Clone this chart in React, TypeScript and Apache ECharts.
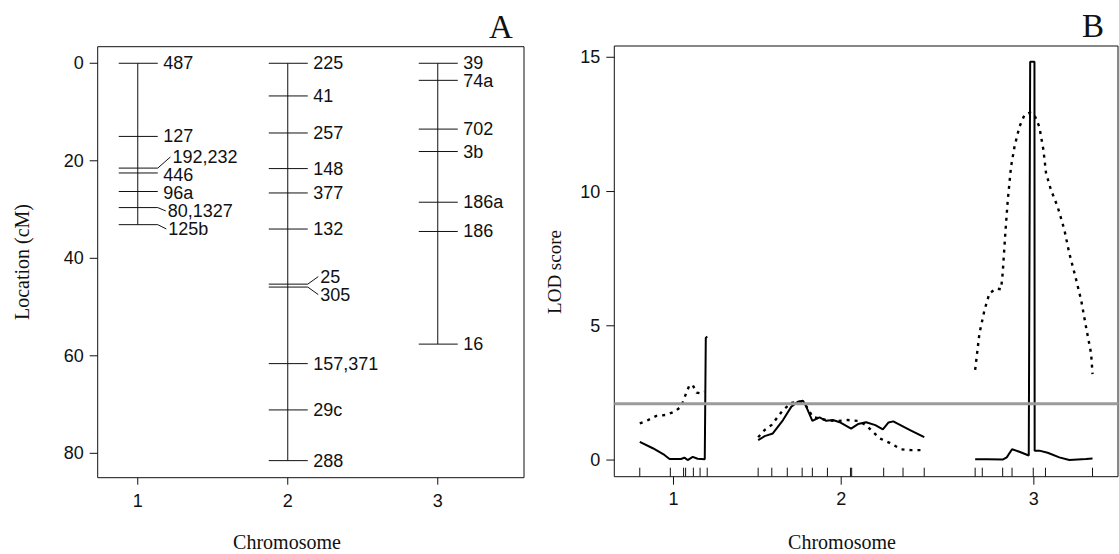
import React, { useEffect, useRef } from "react";
import * as echarts from "echarts";

// ---------- data ----------
const chromosomes = ["1", "2", "3"];

const markerNames1 = ["487", "127", "192,232", "446", "96a", "80,1327", "125b"];
const markerPos1 = [0, 15.0, 21.5, 22.5, 26.3, 29.6, 33.1];
const markerNames2 = ["225", "41", "257", "148", "377", "132", "25", "305", "157,371", "29c", "288"];
const markerPos2 = [0, 6.7, 14.3, 21.6, 26.6, 34.0, 45.3, 45.9, 61.6, 71.1, 81.5];
const markerNames3 = ["39", "74a", "702", "3b", "186a", "186", "16"];
const markerPos3 = [0, 3.5, 13.5, 18.1, 28.5, 34.5, 57.6];

// LOD profiles (position in cM within chromosome, LOD)
const solidPos1 = [0, 6.4, 12.1, 14.6, 20.3, 21.9, 23.5, 26.0, 28.4, 31.9, 32.4, 33.1];
const solidLod1 = [0.68, 0.44, 0.19, 0.04, 0.04, 0.09, 0.0, 0.12, 0.05, 0.03, 4.55, 4.6];
const dottedPos1 = [0, 3.1, 8.0, 12.9, 17.0, 20.3, 22.7, 24.4, 26.0, 27.9, 30.1, 31.7];
const dottedLod1 = [1.37, 1.45, 1.64, 1.68, 1.8, 1.99, 2.48, 2.79, 2.79, 2.51, 2.48, 2.54];

const solidPos2 = [0, 3.2, 7.2, 12.2, 16.3, 19.5, 22.0, 23.6, 26.6, 30.1, 33.4, 36.7, 40.0, 45.6, 49.0, 53.0, 57.5, 61.2, 64.0, 66.3, 74.3, 81.5];
const solidLod2 = [0.74, 0.89, 0.99, 1.49, 1.99, 2.17, 2.21, 1.99, 1.46, 1.59, 1.46, 1.49, 1.41, 1.17, 1.34, 1.41, 1.3, 1.14, 1.4, 1.44, 1.12, 0.85];
const dottedPos2 = [0, 3.2, 6.5, 12.2, 16.3, 20.3, 22.6, 24.5, 26.8, 30.0, 34.0, 38.0, 44.0, 48.9, 53.0, 56.3, 59.6, 64.5, 70.2, 75.0, 80.0];
const dottedLod2 = [0.85, 1.12, 1.3, 1.86, 2.13, 2.17, 2.13, 1.9, 1.6, 1.55, 1.48, 1.45, 1.49, 1.46, 1.3, 1.05, 0.81, 0.64, 0.4, 0.37, 0.37];

const solidPos3 = [0, 6.0, 13.5, 15.5, 18.1, 21.7, 26.3, 27.0, 29.1, 29.2, 31.5, 35.6, 41.3, 46.2, 54.4, 57.6];
const solidLod3 = [0.03, 0.03, 0.02, 0.1, 0.4, 0.31, 0.17, 14.83, 14.83, 0.35, 0.35, 0.27, 0.1, 0.0, 0.04, 0.06];
const dottedPos3 = [0, 2.1, 4.6, 7.0, 10.3, 12.7, 13.5, 14.8, 16.0, 17.6, 19.3, 21.7, 24.2, 27.0, 29.1, 31.5, 33.5, 34.8, 37.2, 40.5, 43.8, 46.2, 49.2, 52.0, 54.4, 56.9, 57.6];
const dottedLod3 = [3.36, 4.72, 5.59, 6.21, 6.39, 6.36, 6.95, 8.44, 9.68, 10.92, 11.67, 12.41, 12.85, 12.94, 12.85, 12.41, 11.55, 10.68, 10.06, 9.43, 8.57, 7.7, 6.83, 5.96, 4.96, 3.97, 3.2];

const lodThreshold = 2.1;
const locationTicks = [0, 20, 40, 60, 80];
const lodTicks = [0, 5, 10, 15];

// ---------- layout ----------
const SANS = '"Liberation Sans", Arial, Helvetica, sans-serif';
const SERIF = '"Liberation Serif", "Times New Roman", serif';
const INK = "#111";

const gridA = { left: 97.7, top: 46.7, width: 426.3, height: 431 };
const gridB = { left: 614.3, top: 46, width: 503.7, height: 430.7 };
const yMinA = -3.4, yMaxA = 85;
const xMinA = 0.733, xMaxA = 3.575;
const yMinB = -0.62, yMaxB = 15.42;
const chrGap = 25;
const labelGapPx = 18;

const markerNames = [markerNames1, markerNames2, markerNames3];
const markerPos = [markerPos1, markerPos2, markerPos3];
const solidPos = [solidPos1, solidPos2, solidPos3];
const solidLod = [solidLod1, solidLod2, solidLod3];
const dottedPos = [dottedPos1, dottedPos2, dottedPos3];
const dottedLod = [dottedLod1, dottedLod2, dottedLod3];

function spreadLabels(pos: number[], gap: number): number[] {
  const lab = pos.slice();
  for (let it = 0; it < 800; it++) {
    let moved = false;
    for (let i = 0; i < lab.length - 1; i++) {
      const d = lab[i + 1] - lab[i];
      if (d < gap - 1e-6) {
        const s = (gap - d) / 2;
        lab[i] -= s;
        lab[i + 1] += s;
        moved = true;
      }
    }
    if (!moved) break;
  }
  return lab;
}

// outward axis ticks drawn through the axes' own scales
function tickSeries(gridIdx: number, data: number[][], dir: "left" | "down", len: number) {
  return {
    type: "custom",
    xAxisIndex: gridIdx,
    yAxisIndex: gridIdx,
    silent: true,
    clip: false,
    z: 5,
    data,
    encode: { x: 0, y: 1 },
    renderItem: (params: any, api: any) => {
      const p = api.coord([api.value(0), api.value(1)]);
      const cs = params.coordSys;
      if (dir === "left") {
        const x = cs.x;
        return {
          type: "line",
          shape: { x1: x - len, y1: p[1], x2: x, y2: p[1] },
          style: { stroke: INK, lineWidth: 1 },
        };
      }
      const y = cs.y + cs.height;
      return {
        type: "line",
        shape: { x1: p[0], y1: y, x2: p[0], y2: y + len },
        style: { stroke: INK, lineWidth: 1 },
      };
    },
  };
}

export default function App() {
  const ref = useRef<HTMLDivElement>(null);

  useEffect(() => {
    const chart = echarts.init(ref.current!, null, { renderer: "svg" });

    const lens = markerPos.map((p) => p[p.length - 1]);
    const offsets: number[] = [];
    lens.forEach((l, i) => {
      offsets.push(i === 0 ? 0 : offsets[i - 1] + lens[i - 1] + chrGap);
    });
    const mids = offsets.map((o, i) => o + lens[i] / 2);
    const xMinB = -chrGap / 2;
    const xMaxB = offsets[2] + lens[2] + chrGap / 2;

    // panel A marker items
    const pxPerCM = gridA.height / (yMaxA - yMinA);
    const minGap = labelGapPx / pxPerCM;
    const markerItems: number[][] = [];
    const markerLabels: string[] = [];
    markerPos.forEach((pos, ci) => {
      const lab = spreadLabels(pos, minGap);
      pos.forEach((p, j) => {
        markerItems.push([ci + 1, p, lab[j]]);
        markerLabels.push(markerNames[ci][j]);
      });
    });

    const rugItems: number[][] = [];
    markerPos.forEach((pos, ci) => pos.forEach((p) => rugItems.push([offsets[ci] + p, 0])));

    const series: any[] = [];

    // chromosome backbones (panel A)
    markerPos.forEach((pos, ci) => {
      series.push({
        type: "line",
        xAxisIndex: 0,
        yAxisIndex: 0,
        data: [[ci + 1, 0], [ci + 1, pos[pos.length - 1]]],
        symbol: "none",
        silent: true,
        lineStyle: { color: INK, width: 1 },
      });
    });

    // markers with labels (panel A)
    series.push({
      type: "custom",
      xAxisIndex: 0,
      yAxisIndex: 0,
      silent: true,
      data: markerItems,
      encode: { x: 0, y: 1 },
      renderItem: (params: any, api: any) => {
        const c = api.value(0);
        const p = api.coord([c, api.value(1)]);
        const q = api.coord([c, api.value(2)]);
        const off = q[1] - p[1];
        const tickEnd = p[0] + 20;
        const children: any[] = [
          {
            type: "line",
            shape: { x1: p[0] - 19, y1: p[1], x2: tickEnd, y2: p[1] },
            style: { stroke: INK, lineWidth: 1 },
          },
        ];
        let tx = p[0] + 25.5;
        if (Math.abs(off) > 3.2) {
          const dx = 6 + Math.abs(off) * 0.6;
          children.push({
            type: "line",
            shape: { x1: tickEnd, y1: p[1], x2: tickEnd + dx, y2: q[1] },
            style: { stroke: INK, lineWidth: 1 },
          });
          tx = Math.max(tx, tickEnd + dx + 2);
        }
        children.push({
          type: "text",
          x: tx,
          y: q[1],
          style: {
            text: markerLabels[params.dataIndex],
            fill: INK,
            fontSize: 18,
            fontFamily: SANS,
            align: "left",
            verticalAlign: "middle",
          },
        });
        return { type: "group", children };
      },
    });

    // LOD curves (panel B)
    for (let ci = 0; ci < 3; ci++) {
      series.push({
        type: "line",
        xAxisIndex: 1,
        yAxisIndex: 1,
        data: dottedPos[ci].map((p, j) => [offsets[ci] + p, dottedLod[ci][j]]),
        symbol: "none",
        silent: true,
        z: 2,
        lineStyle: { color: "#000", width: 2.4, type: [3, 5], cap: "butt" },
      });
      series.push({
        type: "line",
        xAxisIndex: 1,
        yAxisIndex: 1,
        data: solidPos[ci].map((p, j) => [offsets[ci] + p, solidLod[ci][j]]),
        symbol: "none",
        silent: true,
        z: 2,
        lineStyle: { color: "#000", width: 2 },
      });
    }

    // threshold
    series.push({
      type: "line",
      xAxisIndex: 1,
      yAxisIndex: 1,
      data: [[xMinB, lodThreshold], [xMaxB, lodThreshold]],
      symbol: "none",
      silent: true,
      z: 4,
      lineStyle: { color: "#9b9b9b", width: 3 },
    });

    // marker rug (panel B)
    series.push({
      type: "custom",
      xAxisIndex: 1,
      yAxisIndex: 1,
      silent: true,
      data: rugItems,
      encode: { x: 0, y: 1 },
      renderItem: (params: any, api: any) => {
        const p = api.coord([api.value(0), 0]);
        const bottom = params.coordSys.y + params.coordSys.height;
        return {
          type: "line",
          shape: { x1: p[0], y1: bottom, x2: p[0], y2: bottom - 9 },
          style: { stroke: INK, lineWidth: 1 },
        };
      },
    });

    // axis ticks (outward)
    series.push(tickSeries(0, locationTicks.map((v) => [xMinA, v]), "left", 8));
    series.push(tickSeries(0, [1, 2, 3].map((c) => [c, yMaxA]), "down", 7));
    series.push(tickSeries(1, lodTicks.map((v) => [xMinB, v]), "left", 8));
    series.push(tickSeries(1, mids.map((m) => [m, yMinB]), "down", 8));

    const axisLabelBase = { color: INK, fontSize: 18, fontFamily: SANS };
    const hiddenLine = { show: false, onZero: false };

    const option: any = {
      animation: false,
      backgroundColor: "#fff",
      grid: [
        { ...gridA, show: true, borderColor: INK, borderWidth: 1, containLabel: false },
        { ...gridB, show: true, borderColor: INK, borderWidth: 1, containLabel: false },
      ],
      xAxis: [
        {
          type: "value",
          gridIndex: 0,
          position: "bottom",
          min: xMinA,
          max: xMaxA,
          axisLine: hiddenLine,
          splitLine: { show: false },
          axisTick: { show: false },
          axisLabel: {
            ...axisLabelBase,
            margin: 14,
            customValues: [1, 2, 3],
            formatter: (v: number) => chromosomes[Math.round(v) - 1] ?? "",
          },
        },
        {
          type: "value",
          gridIndex: 1,
          position: "bottom",
          min: xMinB,
          max: xMaxB,
          axisLine: hiddenLine,
          splitLine: { show: false },
          axisTick: { show: false },
          axisLabel: {
            ...axisLabelBase,
            margin: 13,
            customValues: mids,
            formatter: (v: number) => {
              const i = mids.findIndex((m) => Math.abs(m - v) < 1e-3);
              return i >= 0 ? chromosomes[i] : "";
            },
          },
        },
      ],
      yAxis: [
        {
          type: "value",
          gridIndex: 0,
          position: "left",
          inverse: true,
          min: yMinA,
          max: yMaxA,
          axisLine: hiddenLine,
          splitLine: { show: false },
          axisTick: { show: false },
          axisLabel: { ...axisLabelBase, margin: 14, customValues: locationTicks },
        },
        {
          type: "value",
          gridIndex: 1,
          position: "left",
          min: yMinB,
          max: yMaxB,
          axisLine: hiddenLine,
          splitLine: { show: false },
          axisTick: { show: false },
          axisLabel: { ...axisLabelBase, margin: 14, customValues: lodTicks },
        },
      ],
      graphic: [
        {
          type: "text",
          x: 501,
          y: 27,
          silent: true,
          style: { text: "A", fill: INK, fontSize: 33, fontFamily: SERIF, align: "center", verticalAlign: "middle" },
        },
        {
          type: "text",
          x: 1093,
          y: 26,
          silent: true,
          style: { text: "B", fill: INK, fontSize: 33, fontFamily: SERIF, align: "center", verticalAlign: "middle" },
        },
        {
          type: "text",
          x: 287,
          y: 542,
          silent: true,
          style: { text: "Chromosome", fill: INK, fontSize: 20, fontFamily: SERIF, align: "center", verticalAlign: "middle" },
        },
        {
          type: "text",
          x: 842,
          y: 542,
          silent: true,
          style: { text: "Chromosome", fill: INK, fontSize: 20, fontFamily: SERIF, align: "center", verticalAlign: "middle" },
        },
        {
          type: "text",
          x: 22,
          y: 262,
          rotation: Math.PI / 2,
          silent: true,
          style: { text: "Location (cM)", fill: INK, fontSize: 20, fontFamily: SERIF, align: "center", verticalAlign: "middle" },
        },
        {
          type: "text",
          x: 554,
          y: 272,
          rotation: Math.PI / 2,
          silent: true,
          style: { text: "LOD score", fill: INK, fontSize: 19, fontFamily: SERIF, align: "center", verticalAlign: "middle" },
        },
      ],
      series,
    };

    chart.setOption(option);
    return () => chart.dispose();
  }, []);

  return (
    <div
      ref={ref}
      style={{ position: "absolute", left: 0, top: 0, width: 1119, height: 554, background: "#fff" }}
    />
  );
}
